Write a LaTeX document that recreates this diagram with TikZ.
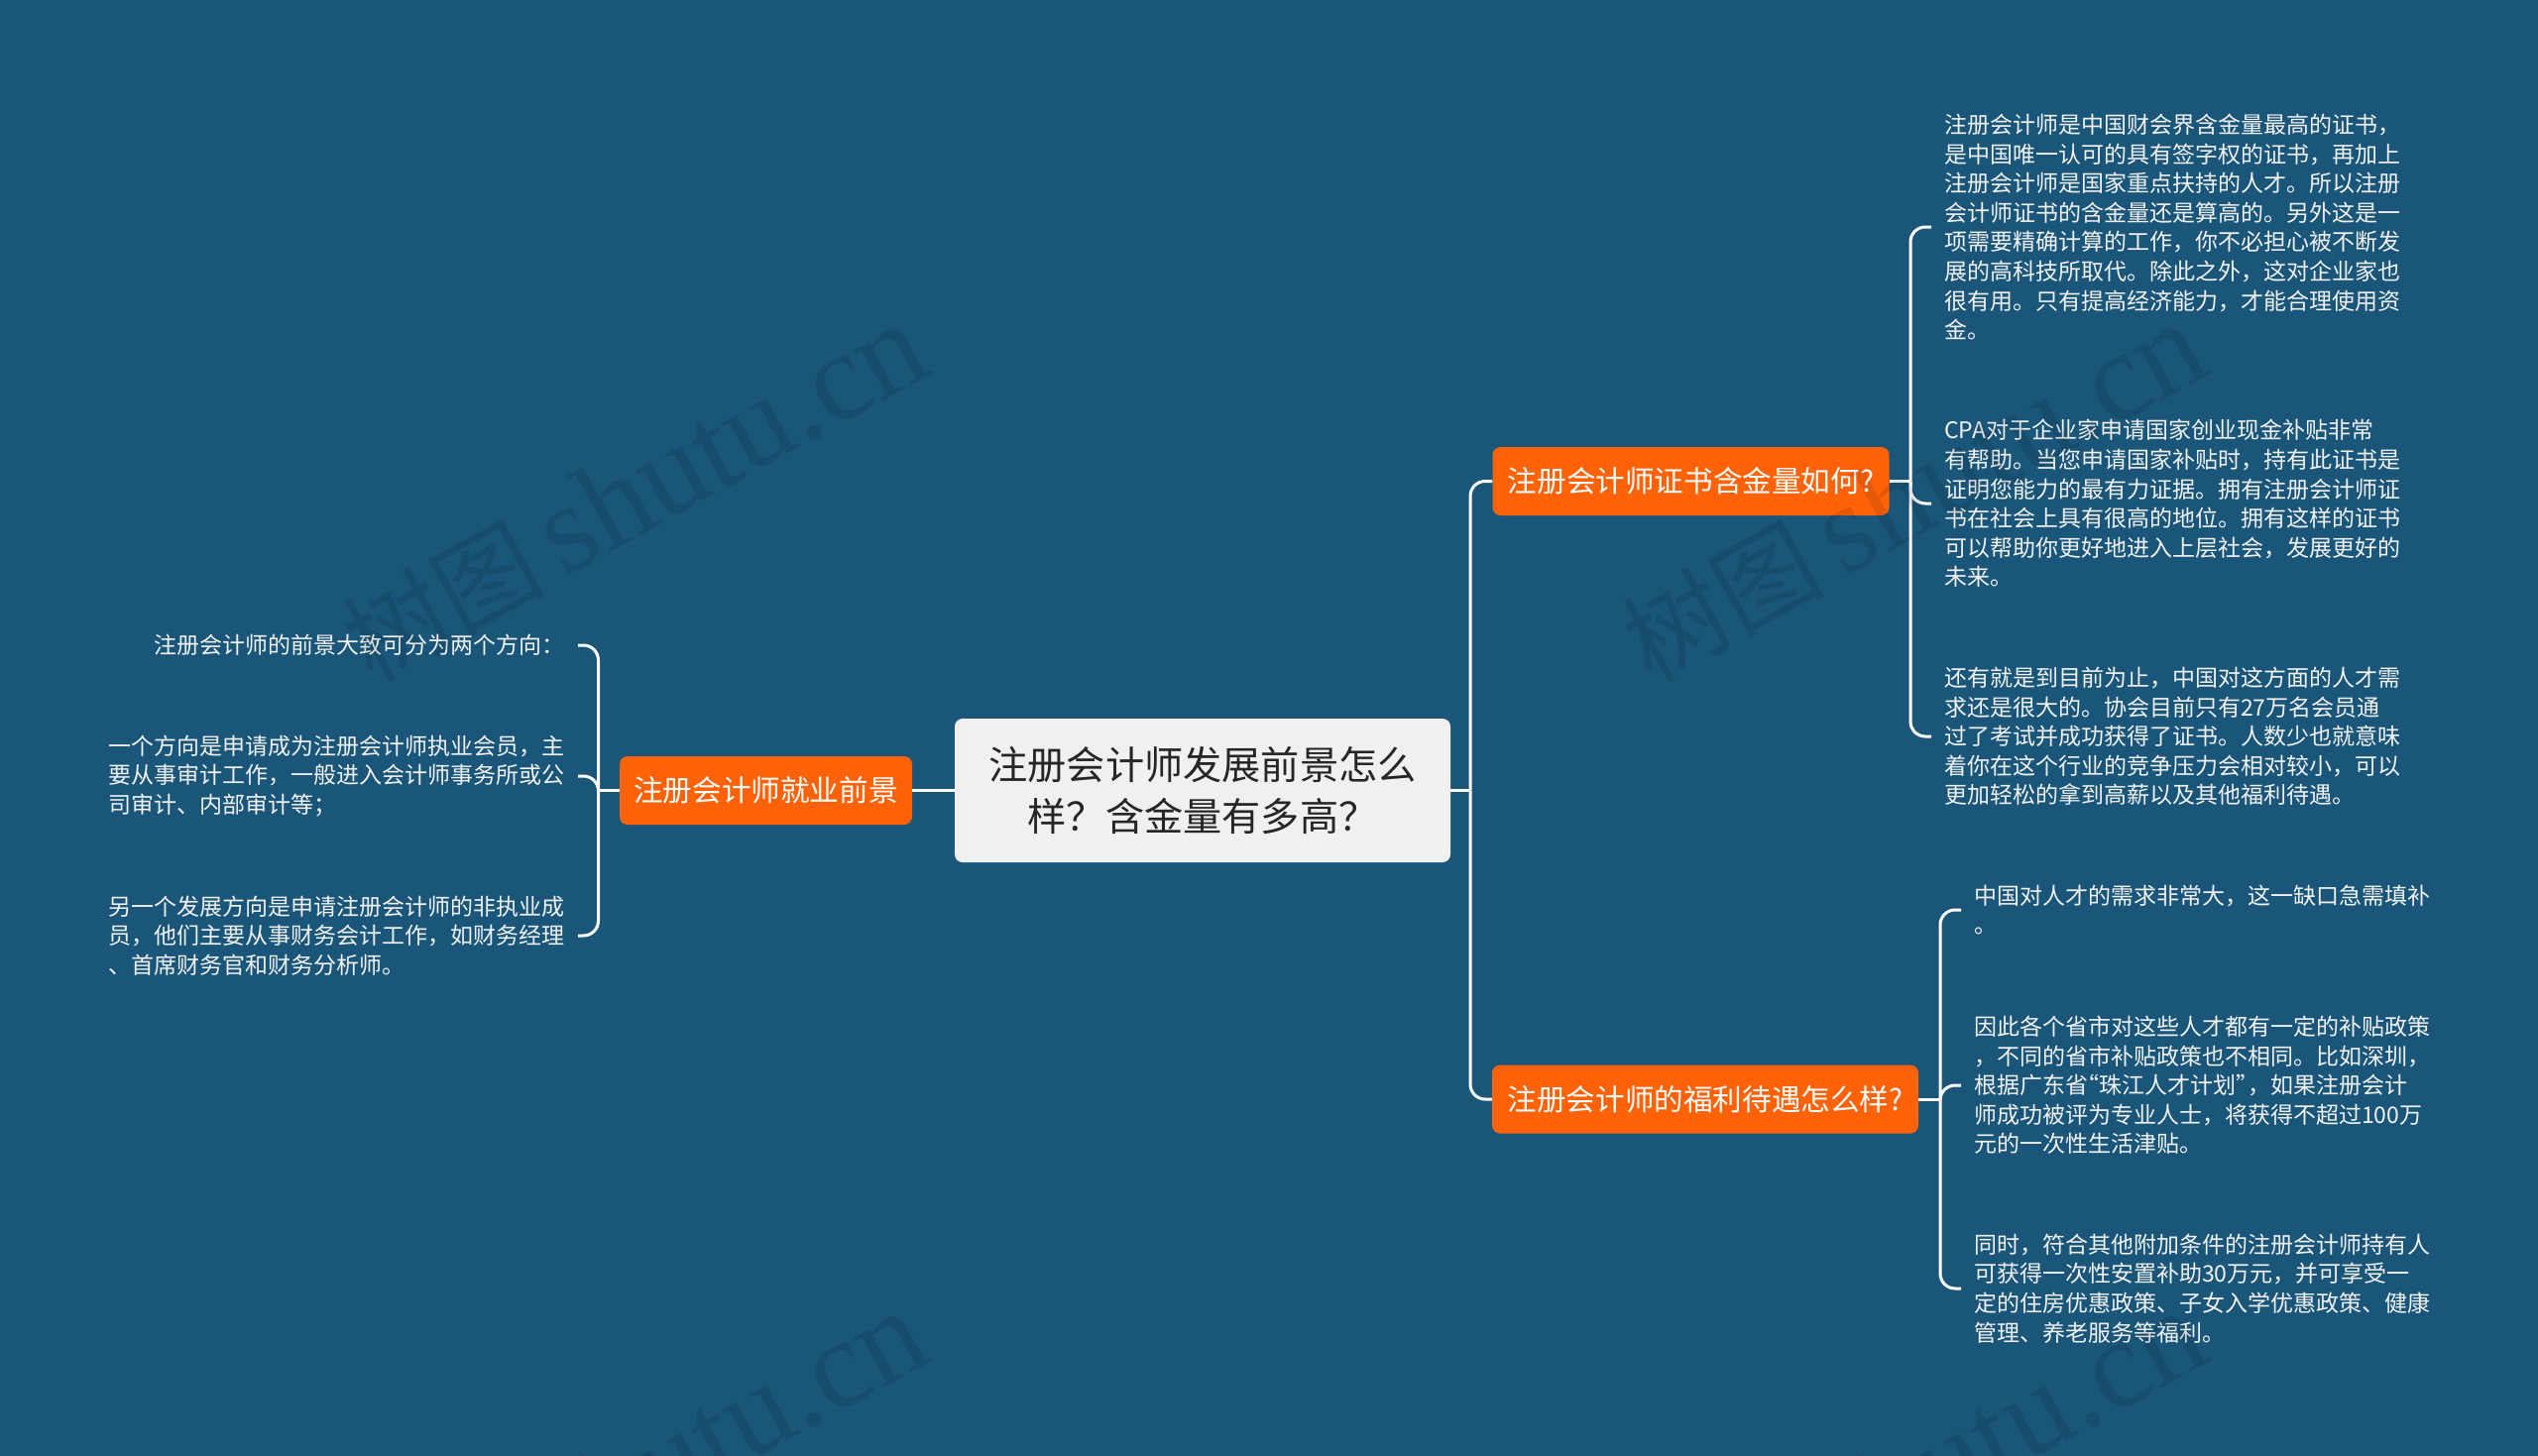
\documentclass[tikz,border=0pt]{standalone}
\usepackage{fontspec}
\setmainfont{Noto Sans CJK SC}
\newfontfamily\wmserif{Liberation Serif}
\usetikzlibrary{positioning}
\definecolor{bgblue}{HTML}{19567A}
\definecolor{boxorange}{HTML}{FF6207}
\definecolor{rootgray}{HTML}{F0F0F0}
\newcommand{\zhcomma}{\symbol{"FF0C}}
\newcommand{\zhquery}{\symbol{"FF1F}}
\newcommand{\zhcolon}{\symbol{"FF1A}}
\newcommand{\zhsemi}{\symbol{"FF1B}}
\newcommand{\wmtext}{{\fontsize{102}{120}\selectfont 树图}\hspace{18pt}{\wmserif\fontsize{127}{120}\selectfont shutu.cn}}
\tikzset{
	rootbox/.style={fill=rootgray, text=black!85, rounded corners=8pt, inner sep=0pt, minimum width=500pt, minimum height=145pt, align=center, font=\fontsize{39.2}{52}\selectfont},
	topic/.style={fill=boxorange, text=white, rounded corners=8pt, inner sep=0pt, minimum height=69pt, font=\fontsize{29.6}{36}\selectfont},
	leaf/.style={text=white!95!black, inner xsep=13pt, inner ysep=0pt, align=left, font=\fontsize{23}{29.6}\selectfont},
	stem/.style={draw=white, line width=3pt},
	branch/.style={stem, rounded corners=15pt},
	wmark/.style={text=black, opacity=0.10, rotate=29, inner sep=0pt}
}
\begin{document}
\begin{tikzpicture}[x=1pt, y=-1pt]
	\useasboundingbox (0, 0) rectangle (2560, 1469);
	\fill[bgblue] (0, 0) rectangle (2560, 1469);

	% --- centre and topics ---
	\node[rootbox] (root) at (1213, 797.5) {注册会计师发展前景怎么\\样\zhquery 含金量有多高\zhquery};
	\node[topic, minimum width=295pt] (job) at (772.5, 797.5) {注册会计师就业前景};
	\node[topic, minimum width=400pt] (cert) at (1705.5, 485.5) {注册会计师证书含金量如何?};
	\node[topic, minimum width=430pt] (perk) at (1720, 1109) {注册会计师的福利待遇怎么样?};

	% --- left texts ---
	\node[leaf, anchor=east] (job1) at (583, 651) {注册会计师的前景大致可分为两个方向\zhcolon};
	\node[leaf, anchor=east] (job2) at (583, 783) {一个方向是申请成为注册会计师执业会员\zhcomma 主\\要从事审计工作\zhcomma 一般进入会计师事务所或公\\司审计、内部审计等\zhsemi};
	\node[leaf, anchor=east] (job3) at (583, 944) {另一个发展方向是申请注册会计师的非执业成\\员\zhcomma 他们主要从事财务会计工作\zhcomma 如财务经理\\、首席财务官和财务分析师。};

	% --- right texts, upper ---
	\node[leaf, anchor=west] (cert1) at (1948, 229) {注册会计师是中国财会界含金量最高的证书\zhcomma\\是中国唯一认可的具有签字权的证书\zhcomma 再加上\\注册会计师是国家重点扶持的人才。所以注册\\会计师证书的含金量还是算高的。另外这是一\\项需要精确计算的工作\zhcomma 你不必担心被不断发\\展的高科技所取代。除此之外\zhcomma 这对企业家也\\很有用。只有提高经济能力\zhcomma 才能合理使用资\\金。};
	\node[leaf, anchor=west] (cert2) at (1948, 508) {CPA对于企业家申请国家创业现金补贴非常\\有帮助。当您申请国家补贴时\zhcomma 持有此证书是\\证明您能力的最有力证据。拥有注册会计师证\\书在社会上具有很高的地位。拥有这样的证书\\可以帮助你更好地进入上层社会\zhcomma 发展更好的\\未来。};
	\node[leaf, anchor=west] (cert3) at (1948, 743) {还有就是到目前为止\zhcomma 中国对这方面的人才需\\求还是很大的。协会目前只有27万名会员通\\过了考试并成功获得了证书。人数少也就意味\\着你在这个行业的竞争压力会相对较小\zhcomma 可以\\更加轻松的拿到高薪以及其他福利待遇。};

	% --- right texts, lower ---
	\node[leaf, anchor=west] (perk1) at (1978, 918) {中国对人才的需求非常大\zhcomma 这一缺口急需填补\\。};
	\node[leaf, anchor=west] (perk2) at (1978, 1095) {因此各个省市对这些人才都有一定的补贴政策\\\zhcomma 不同的省市补贴政策也不相同。比如深圳\zhcomma\\根据广东省{\kern-.5em“}珠江人才计划”{\kern-.5em}\zhcomma 如果注册会计\\师成功被评为专业人士\zhcomma 将获得不超过100万\\元的一次性生活津贴。};
	\node[leaf, anchor=west] (perk3) at (1978, 1300) {同时\zhcomma 符合其他附加条件的注册会计师持有人\\可获得一次性安置补助30万元\zhcomma 并可享受一\\定的住房优惠政策、子女入学优惠政策、健康\\管理、养老服务等福利。};

	% --- trunks ---
	\coordinate (rootfork) at (1483, 797.5);
	\coordinate (jobfork) at (603.5, 797.5);
	\coordinate (certfork) at (1927, 485.5);
	\coordinate (perkfork) at (1957, 1109);

	\draw[stem] (root.west) -- (job.east);
	\draw[stem] (root.east) -- (rootfork);
	\draw[branch] (rootfork) |- (cert.west);
	\draw[branch] (rootfork) |- (perk.west);

	\draw[stem] (job.west) -- (jobfork);
	\draw[branch] (jobfork) |- (job1.east);
	\draw[branch] (jobfork) |- (job2.east);
	\draw[branch] (jobfork) |- (job3.east);

	\draw[stem] (cert.east) -- (certfork);
	\draw[branch] (certfork) |- (cert1.west);
	\draw[branch] (certfork) |- (cert2.west);
	\draw[branch] (certfork) |- (cert3.west);

	\draw[stem] (perk.east) -- (perkfork);
	\draw[branch] (perkfork) |- (perk1.west);
	\draw[branch] (perkfork) |- (perk2.west);
	\draw[branch] (perkfork) |- (perk3.west);

	% --- watermark ---
	\begin{scope}
		\clip (0, 0) rectangle (2560, 1469);
		\node[wmark] (mark1) at (640, 498) {\wmtext};
		\node[wmark] (mark2) at (1930, 498) {\wmtext};
		\node[wmark] (mark3) at (640, 1494) {\wmtext};
		\node[wmark] (mark4) at (1930, 1494) {\wmtext};
	\end{scope}
\end{tikzpicture}
\end{document}
